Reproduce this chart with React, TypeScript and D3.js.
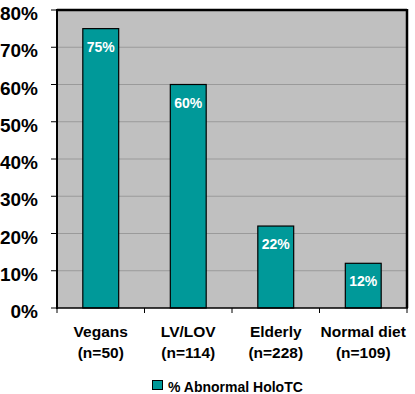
import React from 'react';
import * as d3 from 'd3';

const categories = ['Vegans', 'LV/LOV', 'Elderly', 'Normal diet'];
const sampleSizes = ['(n=50)', '(n=114)', '(n=228)', '(n=109)'];
const abnormalPct = [75, 60, 22, 12];
const yTicks = [0, 10, 20, 30, 40, 50, 60, 70, 80];
const seriesName = '% Abnormal HoloTC';

const W = 415;
const H = 394;
const left = 57;
const right = 407;
const top = 10;
const bottom = 308;
const font = '"Liberation Sans", Arial, sans-serif';
const teal = '#009999';

export default function App() {
  const x = d3.scaleBand<string>()
    .domain(categories)
    .range([left, right])
    .paddingInner(0.59)
    .paddingOuter(0.295);
  const y = d3.scaleLinear().domain([0, 80]).range([bottom, top]);
  const step = x.step();

  return (
    <svg width={W} height={H} style={{ position: 'absolute', left: 0, top: 0, background: '#fff' }} fontFamily={font}>
      {/* plot background */}
      <rect x={left} y={top} width={right - left} height={bottom - top} fill="#c0c0c0" />

      {/* gridlines */}
      {yTicks.filter(t => t > 0 && t < 80).map(t => (
        <line key={t} x1={left} x2={right} y1={y(t)} y2={y(t)} stroke="#9a9a9a" strokeWidth={1} />
      ))}

      {/* bars */}
      {categories.map((c, i) => (
        <g key={c}>
          <rect
            x={x(c)!}
            y={y(abnormalPct[i])}
            width={x.bandwidth()}
            height={bottom - y(abnormalPct[i])}
            fill={teal}
            stroke="#000"
            strokeWidth={1.2}
          />
          <text
            x={x(c)! + x.bandwidth() / 2}
            y={y(abnormalPct[i]) + 23}
            textAnchor="middle"
            fill="#fff"
            fontWeight="bold"
            fontSize={14}
          >{abnormalPct[i]}%</text>
        </g>
      ))}

      {/* frame */}
      <line x1={left} x2={right} y1={top} y2={top} stroke="#000" strokeWidth={2.5} />
      <line x1={right} x2={right} y1={top - 1} y2={bottom} stroke="#000" strokeWidth={2.5} />
      <line x1={left} x2={left} y1={top - 1} y2={bottom + 1} stroke="#000" strokeWidth={2} />
      <line x1={left} x2={right + 1} y1={bottom} y2={bottom} stroke="#000" strokeWidth={1.5} />

      {/* y axis ticks + labels */}
      {yTicks.map(t => (
        <g key={t}>
          <line x1={left - 6} x2={left} y1={y(t)} y2={y(t)} stroke="#000" strokeWidth={1} />
          <text x={38} y={y(t) + 10} textAnchor="end" fontWeight="bold" fontSize={19} fill="#000">{t}%</text>
        </g>
      ))}

      {/* x axis ticks */}
      {d3.range(categories.length + 1).map(i => (
        <line key={i} x1={left + i * step} x2={left + i * step} y1={bottom} y2={bottom + 5} stroke="#000" strokeWidth={1} />
      ))}

      {/* category labels */}
      {categories.map((c, i) => {
        const cx = x(c)! + x.bandwidth() / 2;
        return (
          <g key={c} fontWeight="bold" fontSize={15.5} fill="#000" textAnchor="middle">
            <text x={cx} y={337}>{c}</text>
            <text x={cx} y={358}>{sampleSizes[i]}</text>
          </g>
        );
      })}

      {/* legend */}
      <rect x={152.5} y={380.5} width={10} height={9} fill={teal} stroke="#000" strokeWidth={1} />
      <text x={168} y={392} fontWeight="bold" fontSize={14} fill="#000">{seriesName}</text>
    </svg>
  );
}
